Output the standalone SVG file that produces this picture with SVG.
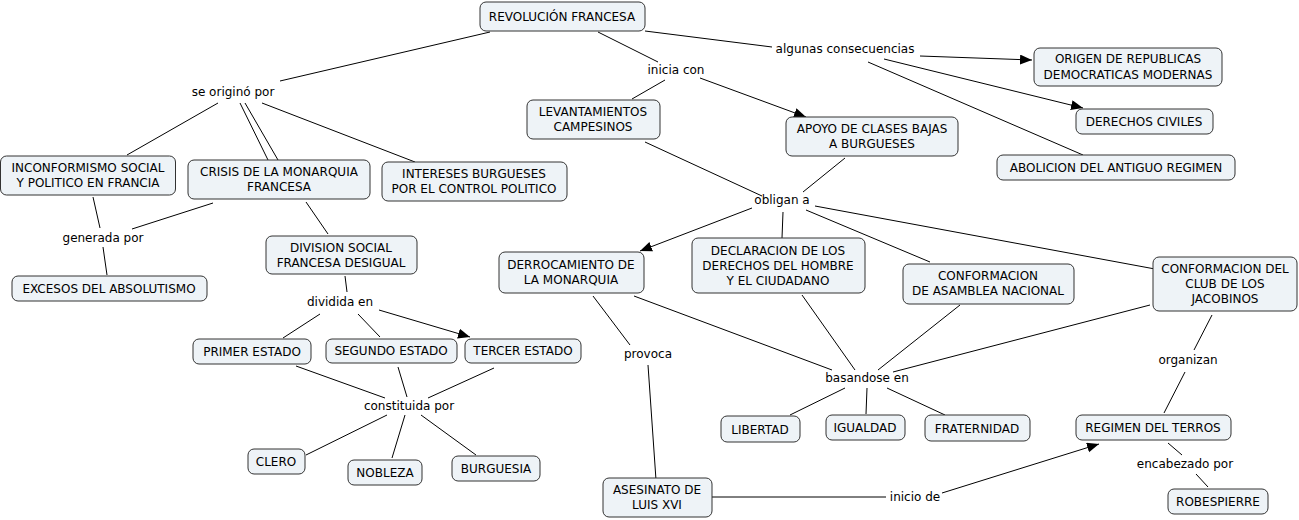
<svg xmlns="http://www.w3.org/2000/svg" width="1299" height="520" viewBox="0 0 1299 520">
<style>
.n rect{fill:#eef3f7;stroke:#333;stroke-width:1}
text{font-family:"DejaVu Sans",Verdana,sans-serif;font-size:12px;fill:#000}
.n text{text-anchor:middle}
.l text{text-anchor:middle}
.c line{stroke:#000;stroke-width:1}
.c line.a{marker-end:url(#ah)}
</style>
<defs>
<marker id="ah" markerUnits="userSpaceOnUse" markerWidth="13" markerHeight="11" refX="12" refY="5" orient="auto">
<path d="M0,0 L12,5 L0,10 z" fill="#000"/>
</marker>
</defs>
<rect width="1299" height="520" fill="#fff"/>
<g id="connectors" class="c">
<line x1="490" y1="32" x2="280" y2="81"/>
<line x1="218" y1="103" x2="127" y2="155"/>
<line x1="240" y1="103" x2="268" y2="160"/>
<line x1="245" y1="103" x2="278" y2="160"/>
<line x1="262" y1="103" x2="415" y2="162"/>
<line x1="93" y1="197" x2="100" y2="228"/>
<line x1="213" y1="203" x2="132" y2="229"/>
<line x1="103" y1="247" x2="107" y2="275"/>
<line x1="306" y1="202" x2="328" y2="234"/>
<line x1="345" y1="276" x2="347" y2="292"/>
<line x1="320" y1="314" x2="283" y2="338"/>
<line x1="358" y1="314" x2="380" y2="337"/>
<line class="a" x1="379" y1="310" x2="470" y2="337"/>
<line x1="296" y1="366" x2="385" y2="398"/>
<line x1="398" y1="367" x2="407" y2="397"/>
<line x1="494" y1="368" x2="428" y2="398"/>
<line x1="387" y1="415" x2="306" y2="455"/>
<line x1="405" y1="415" x2="392" y2="458"/>
<line x1="421" y1="415" x2="476" y2="455"/>
<line x1="598" y1="32" x2="658" y2="62"/>
<line x1="665" y1="80" x2="632" y2="99"/>
<line class="a" x1="700" y1="78" x2="806" y2="117"/>
<line x1="645" y1="31" x2="772" y2="47"/>
<line class="a" x1="920" y1="56" x2="1032" y2="60"/>
<line class="a" x1="884" y1="59" x2="1083" y2="108"/>
<line x1="868" y1="62" x2="1083" y2="155"/>
<line x1="645" y1="142" x2="762" y2="196"/>
<line x1="845" y1="158" x2="803" y2="192"/>
<line class="a" x1="752" y1="208" x2="640" y2="251"/>
<line x1="783" y1="212" x2="782" y2="238"/>
<line x1="806" y1="210" x2="930" y2="262"/>
<line x1="815" y1="206" x2="1155" y2="269"/>
<line x1="593" y1="296" x2="630" y2="345"/>
<line x1="648" y1="365" x2="656" y2="480"/>
<line x1="634" y1="296" x2="832" y2="370"/>
<line x1="802" y1="295" x2="855" y2="370"/>
<line x1="960" y1="305" x2="878" y2="370"/>
<line x1="1150" y1="305" x2="893" y2="372"/>
<line x1="845" y1="388" x2="790" y2="415"/>
<line x1="867" y1="388" x2="866" y2="414"/>
<line x1="887" y1="388" x2="945" y2="415"/>
<line x1="1212" y1="315" x2="1194" y2="350"/>
<line x1="1185" y1="372" x2="1164" y2="413"/>
<line x1="1168" y1="443" x2="1182" y2="455"/>
<line x1="1196" y1="474" x2="1208" y2="487"/>
<line x1="712" y1="497" x2="886" y2="497"/>
<line class="a" x1="942" y1="493" x2="1099" y2="444"/>
</g>
<g id="labels" class="l">
<text x="233" y="96">se originó por</text>
<text x="676" y="74">inicia con</text>
<text x="845" y="53">algunas consecuencias</text>
<text x="782" y="204">obligan a</text>
<text x="103" y="242">generada por</text>
<text x="340" y="306">dividida en</text>
<text x="648" y="358">provoca</text>
<text x="867" y="382">basandose en</text>
<text x="1188" y="364">organizan</text>
<text x="409" y="410">constituida por</text>
<text x="1185" y="468">encabezado por</text>
<text x="915" y="501">inicio de</text>
</g>
<g id="n1" class="n"><rect x="480" y="2" width="165" height="29" rx="6"/><text x="562" y="21">REVOLUCIÓN FRANCESA</text></g>
<g id="n2" class="n"><rect x="1034" y="48" width="188" height="38" rx="6"/><text x="1128" y="63">ORIGEN DE REPUBLICAS</text><text x="1128" y="79">DEMOCRATICAS MODERNAS</text></g>
<g id="n3" class="n"><rect x="527" y="100" width="133" height="39" rx="6"/><text x="593" y="116">LEVANTAMIENTOS</text><text x="593" y="131">CAMPESINOS</text></g>
<g id="n4" class="n"><rect x="786" y="117" width="172" height="39" rx="6"/><text x="872" y="133">APOYO DE CLASES BAJAS</text><text x="872" y="148">A BURGUESES</text></g>
<g id="n5" class="n"><rect x="1076" y="109" width="137" height="25" rx="6"/><text x="1144" y="126">DERECHOS CIVILES</text></g>
<g id="n6" class="n"><rect x="997" y="155" width="238" height="25" rx="6"/><text x="1116" y="172">ABOLICION DEL ANTIGUO REGIMEN</text></g>
<g id="n7" class="n"><rect x="0.5" y="156" width="175" height="39" rx="6"/><text x="88" y="172">INCONFORMISMO SOCIAL</text><text x="88" y="187">Y POLITICO EN FRANCIA</text></g>
<g id="n8" class="n"><rect x="188" y="160" width="182" height="39" rx="6"/><text x="279" y="176">CRISIS DE LA MONARQUIA</text><text x="279" y="191">FRANCESA</text></g>
<g id="n9" class="n"><rect x="382" y="162" width="185" height="39" rx="6"/><text x="474" y="178">INTERESES BURGUESES</text><text x="474" y="193">POR EL CONTROL POLITICO</text></g>
<g id="n10" class="n"><rect x="266" y="236" width="151" height="38" rx="6"/><text x="341" y="252">DIVISION SOCIAL</text><text x="341" y="267">FRANCESA DESIGUAL</text></g>
<g id="n11" class="n"><rect x="12" y="276" width="195" height="25" rx="6"/><text x="109" y="293">EXCESOS DEL ABSOLUTISMO</text></g>
<g id="n12" class="n"><rect x="499" y="252" width="145" height="41" rx="6"/><text x="571" y="269">DERROCAMIENTO DE</text><text x="571" y="284">LA MONARQUIA</text></g>
<g id="n13" class="n"><rect x="692" y="238" width="173" height="55" rx="6"/><text x="778" y="255">DECLARACION DE LOS</text><text x="778" y="270">DERECHOS DEL HOMBRE</text><text x="778" y="285">Y EL CIUDADANO</text></g>
<g id="n14" class="n"><rect x="903" y="264" width="171" height="40" rx="6"/><text x="988" y="280">CONFORMACION</text><text x="988" y="295">DE ASAMBLEA NACIONAL</text></g>
<g id="n15" class="n"><rect x="1153" y="257" width="144" height="54" rx="6"/><text x="1225" y="273">CONFORMACION DEL</text><text x="1225" y="288">CLUB DE LOS</text><text x="1225" y="303">JACOBINOS</text></g>
<g id="n16" class="n"><rect x="193" y="339" width="118" height="25" rx="6"/><text x="252" y="356">PRIMER ESTADO</text></g>
<g id="n17" class="n"><rect x="326" y="339" width="131" height="24" rx="6"/><text x="391" y="355">SEGUNDO ESTADO</text></g>
<g id="n18" class="n"><rect x="465" y="339" width="116" height="24" rx="6"/><text x="523" y="355">TERCER ESTADO</text></g>
<g id="n19" class="n"><rect x="721" y="416" width="79" height="26" rx="6"/><text x="760" y="434">LIBERTAD</text></g>
<g id="n20" class="n"><rect x="826" y="415" width="79" height="25" rx="6"/><text x="865" y="432">IGUALDAD</text></g>
<g id="n21" class="n"><rect x="925" y="415" width="105" height="26" rx="6"/><text x="977" y="433">FRATERNIDAD</text></g>
<g id="n22" class="n"><rect x="1076" y="415" width="155" height="25" rx="6"/><text x="1153" y="432">REGIMEN DEL TERROS</text></g>
<g id="n23" class="n"><rect x="248" y="449" width="57" height="25" rx="6"/><text x="276" y="466">CLERO</text></g>
<g id="n24" class="n"><rect x="348" y="460" width="74" height="25" rx="6"/><text x="385" y="477">NOBLEZA</text></g>
<g id="n25" class="n"><rect x="452" y="456" width="88" height="25" rx="6"/><text x="496" y="473">BURGUESIA</text></g>
<g id="n26" class="n"><rect x="603" y="478" width="109" height="39" rx="6"/><text x="657" y="494">ASESINATO DE</text><text x="657" y="509">LUIS XVI</text></g>
<g id="n27" class="n"><rect x="1168" y="489" width="100" height="25" rx="6"/><text x="1218" y="506">ROBESPIERRE</text></g>
</svg>
